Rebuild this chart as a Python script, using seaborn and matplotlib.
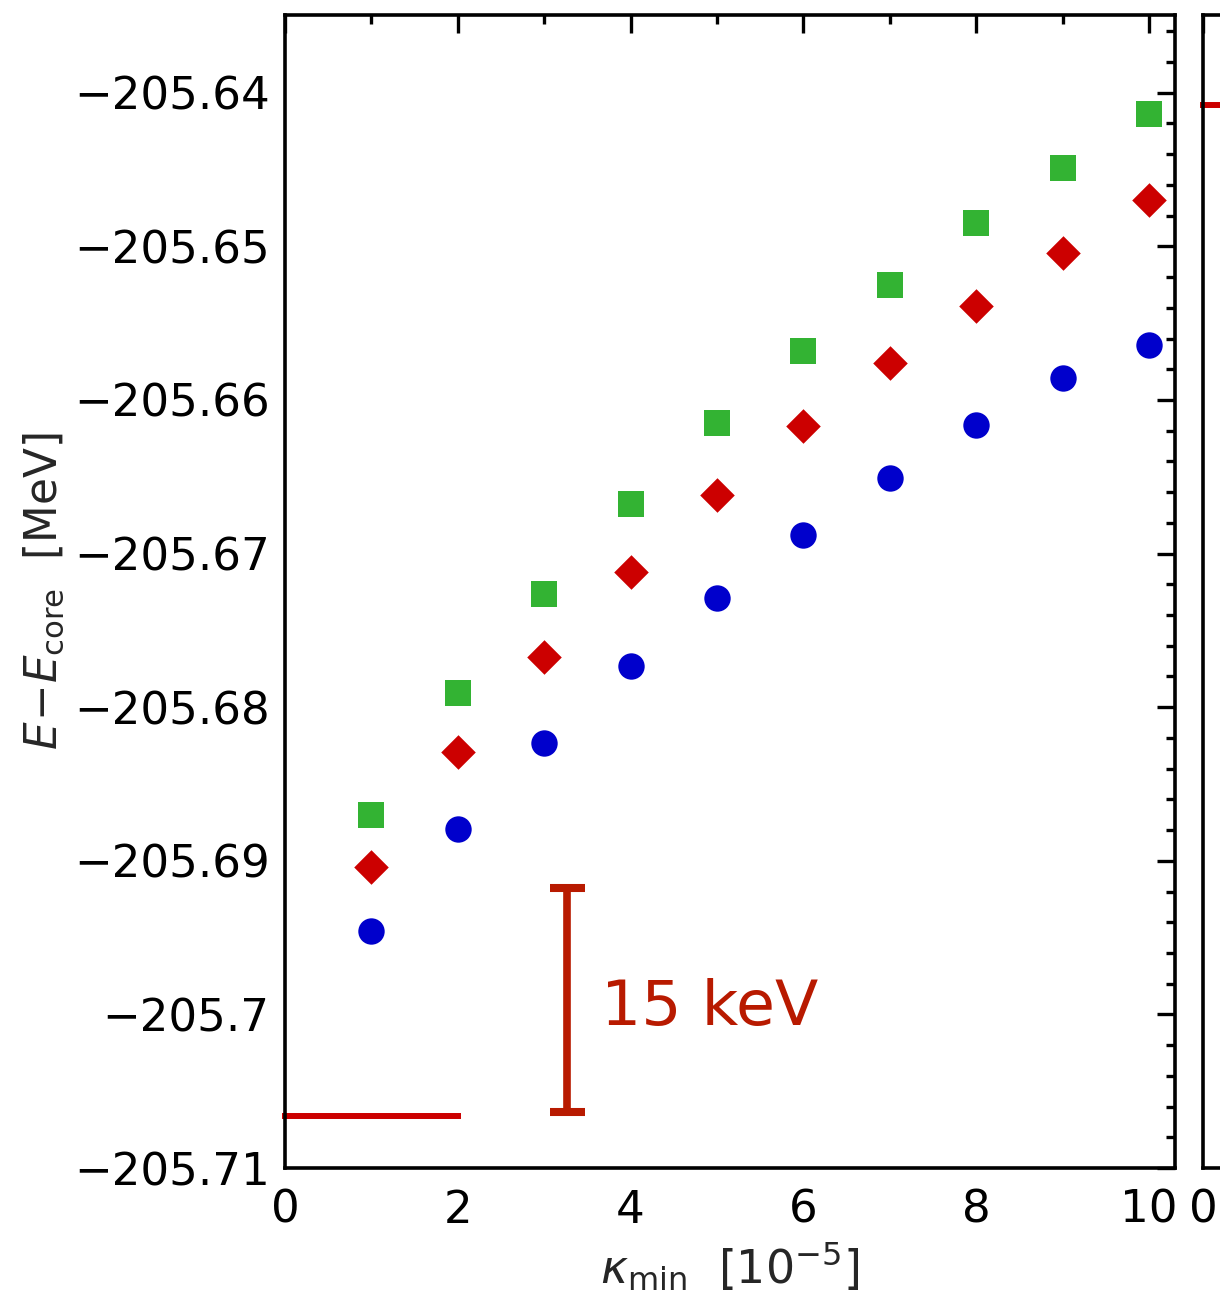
import numpy as np
import pandas as pd
import matplotlib
matplotlib.use("Agg")
import matplotlib.pyplot as plt
import matplotlib.ticker as mticker
import seaborn as sns

# ---------------- data ----------------
kappa = [1, 2, 3, 4, 5, 6, 7, 8, 9, 10]
e_square = [-205.6870, -205.6791, -205.6726, -205.6668, -205.6615,
            -205.6568, -205.6525, -205.6485, -205.6449, -205.6414]
e_diamond = [-205.6904, -205.6829, -205.6767, -205.6712, -205.6662,
             -205.6617, -205.6576, -205.6539, -205.6504, -205.6470]
e_circle = [-205.6946, -205.6879, -205.6823, -205.6773, -205.6729,
            -205.6688, -205.6651, -205.6616, -205.6586, -205.6564]

ref_x = [0, 2]
ref_y = -205.7066
bar_x = 3.26
bar_center = -205.69905
bar_half = 0.0073
bar_text = "15 keV"

yticks = [-205.71, -205.70, -205.69, -205.68, -205.67, -205.66, -205.65, -205.64]
yticklabels = ["\u2212205.71", "\u2212205.7", "\u2212205.69", "\u2212205.68",
               "\u2212205.67", "\u2212205.66", "\u2212205.65", "\u2212205.64"]
xticks = [0, 2, 4, 6, 8, 10]
xticklabels = ["0", "2", "4", "6", "8", "10"]
panel2_xticklabels = ["0", "", "", "", "", ""]

panel2_ref_x = [0, 10]
panel2_ref_y = 1.07

# ---------------- style ----------------
sns.set_theme(style="white")
plt.rcParams["font.family"] = ["DejaVu Sans"]
plt.rcParams["mathtext.fontset"] = "dejavusans"
plt.rcParams["axes.linewidth"] = 2.6

green = "#33b333"
red = "#cc0000"
blue = "#0000cc"
bar_color = "#b81a00"
spine_w = 2.6

df = pd.DataFrame({
    "kappa": kappa * 3,
    "E": e_square + e_diamond + e_circle,
    "series": ["sq"] * 10 + ["di"] * 10 + ["ci"] * 10,
})

fig = plt.figure(figsize=(12.2, 13.08), dpi=100)
ax = fig.add_axes([0.2336, 0.1070, 0.7295, 0.8815])
ax2 = fig.add_axes([0.9861, 0.1070, 0.7295, 0.8815])

specs = {"sq": ("s", green, 19.0), "di": ("D", red, 17.6), "ci": ("o", blue, 19.0)}
for key, (mk, col, ms) in specs.items():
    sub = df[df["series"] == key]
    sns.scatterplot(data=sub, x="kappa", y="E", marker=mk, color=col,
                    s=ms ** 2, linewidth=0, ax=ax, legend=False, zorder=3)

# reference line
ax.plot(ref_x, [ref_y, ref_y], color=red, lw=4.3,
        solid_capstyle="projecting", clip_on=False, zorder=2)

# 15 keV scale bar
ax.errorbar([bar_x], [bar_center], yerr=[bar_half], fmt="none",
            ecolor=bar_color, elinewidth=5.5, capsize=12.6, capthick=5.8)
ax.text(3.66, -205.70068, bar_text, color=bar_color, fontsize=45.5,
        ha="left", va="baseline")

ax.set_xlim(0, 10.3)
ax.set_ylim(-205.71, -205.63494)
ax.set_xticks(xticks)
ax.set_xticklabels(xticklabels)
ax.set_xticks([1, 3, 5, 7, 9], minor=True)
ax.set_yticks(yticks)
ax.set_yticklabels(yticklabels)
ax.yaxis.set_minor_locator(mticker.MultipleLocator(0.002))

ax.tick_params(which="both", direction="in", top=True, right=True,
               width=2.4, colors="black", labelsize=32.5)
ax.tick_params(which="major", length=13)
ax.tick_params(which="minor", length=6.5)
ax.tick_params(axis="y", pad=11)
ax.tick_params(axis="x", pad=15)

ax.set_xlabel(r"$\kappa_{\rm min}$  [$10^{-5}$]", fontsize=33, labelpad=6)
ax.set_ylabel(r"$E\!-\!E_{\rm core}$  [MeV]", fontsize=31.5, labelpad=6)

for sp in ax.spines.values():
    sp.set_linewidth(spine_w)
    sp.set_color("black")

# ---------------- second (cut) panel ----------------
ax2.set_yscale("log")
ax2.set_xlim(0, 10.3)
ax2.set_ylim(8.17e-4, 1.965)
ax2.plot(panel2_ref_x, [panel2_ref_y, panel2_ref_y], color=red, lw=4.3,
         solid_capstyle="projecting", clip_on=False)
ax2.set_xticks(xticks)
ax2.set_xticklabels(panel2_xticklabels)
ax2.set_xticks([1, 3, 5, 7, 9], minor=True)
ax2.yaxis.set_major_locator(mticker.LogLocator(base=10))
ax2.yaxis.set_minor_locator(mticker.LogLocator(base=10, subs=np.arange(2, 10)))
ax2.tick_params(which="both", direction="in", top=True, right=True,
                width=2.4, colors="black", labelsize=32.5,
                labelleft=False, labelright=False)
ax2.tick_params(which="major", length=13)
ax2.tick_params(which="minor", length=6.5)
ax2.tick_params(axis="x", pad=15)
ax2.yaxis.set_minor_formatter(mticker.NullFormatter())
for sp in ax2.spines.values():
    sp.set_linewidth(spine_w)
    sp.set_color("black")

fig.savefig("out.png", dpi=100, facecolor="white")
